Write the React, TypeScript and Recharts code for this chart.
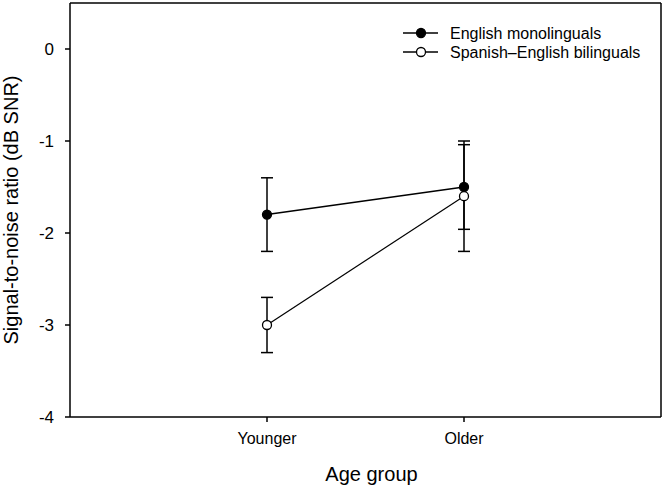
import React from 'react';
import { LineChart, Line, XAxis, YAxis, ErrorBar, ReferenceLine } from 'recharts';

const categories = ['Younger', 'Older'];
const monoValues = [-1.8, -1.5];
const monoErrors = [0.4, 0.46];
const biValues = [-3.0, -1.6];
const biErrors = [0.3, 0.6];
const yTicks = [0, -1, -2, -3, -4];
const seriesNames = ['English monolinguals', 'Spanish\u2013English bilinguals'];

const data = categories.map((c, i) => ({
  x: i + 1,
  label: c,
  mono: monoValues[i],
  monoErr: monoErrors[i],
  bi: biValues[i],
  biErr: biErrors[i],
}));

const FONT = '"Liberation Sans", Arial, sans-serif';

const LegendOverlay = () => (
  <svg width={260} height={50} style={{ position: 'absolute', left: 400, top: 20, display: 'block' }}>
    {[0, 1].map((i) => {
      const y = 13 + i * 19;
      return (
        <g key={i}>
          <line x1={3} x2={38} y1={y} y2={y} stroke="#000" strokeWidth={1.5} />
          <circle cx={21} cy={y} r={4.5} fill={i === 0 ? '#000' : '#fff'} stroke="#000" strokeWidth={1.3} />
          <text x={50} y={y + 5.5} fontSize={16} fontFamily={FONT} fill="#000">
            {seriesNames[i]}
          </text>
        </g>
      );
    })}
  </svg>
);

export default function App() {
  return (
    <div style={{ position: 'absolute', left: 0, top: 0, width: 664, height: 486, background: '#fff' }}>
      <LineChart width={664} height={486} data={data} margin={{ top: 3, right: 3, bottom: 0, left: 0 }}>
        <XAxis
          dataKey="x"
          type="number"
          domain={[0, 3]}
          ticks={[1, 2]}
          tickFormatter={(v: number) => categories[v - 1] ?? ''}
          height={69}
          stroke="#000"
          strokeWidth={1.5}
          tickSize={5}
          tickMargin={11}
          tick={{ fill: '#000', fontSize: 16, fontFamily: FONT }}
          label={{
            content: (props: any) => {
              const vb = props.viewBox || {};
              return (
                <text x={vb.x + vb.width / 2 + 6} y={481} textAnchor="middle" fontSize={20} fontFamily={FONT} fill="#000">
                  Age group
                </text>
              );
            },
          }}
        />
        <YAxis
          type="number"
          domain={[-4, 0.5]}
          ticks={yTicks}
          width={70}
          stroke="#000"
          strokeWidth={1.5}
          tickSize={5}
          tickMargin={11}
          tick={{ fill: '#000', fontSize: 17, fontFamily: FONT }}
          label={{
            content: (props: any) => {
              const vb = props.viewBox || {};
              const cy = vb.y + vb.height / 2;
              return (
                <text x={18} y={cy} textAnchor="middle" fontSize={20} fontFamily={FONT} fill="#000" transform={`rotate(-90, 18, ${cy})`}>
                  Signal-to-noise ratio (dB SNR)
                </text>
              );
            },
          }}
        />
        <ReferenceLine y={0.5} stroke="#000" strokeWidth={1.5} />
        <ReferenceLine x={3} stroke="#000" strokeWidth={1.5} />
        <Line
          dataKey="mono"
          name={seriesNames[0]}
          stroke="#000"
          strokeWidth={1.5}
          isAnimationActive={false}
          dot={{ r: 4.5, fill: '#000', stroke: '#000', strokeWidth: 1.3 }}
          activeDot={false}
        >
          <ErrorBar dataKey="monoErr" width={6} stroke="#000" strokeWidth={1.5} isAnimationActive={false} />
        </Line>
        <Line
          dataKey="bi"
          name={seriesNames[1]}
          stroke="#000"
          strokeWidth={1.2}
          isAnimationActive={false}
          dot={{ r: 4.5, fill: '#fff', stroke: '#000', strokeWidth: 1.3 }}
          activeDot={false}
        >
          <ErrorBar dataKey="biErr" width={6} stroke="#000" strokeWidth={1.5} isAnimationActive={false} />
        </Line>
      </LineChart>
      <LegendOverlay />
    </div>
  );
}
